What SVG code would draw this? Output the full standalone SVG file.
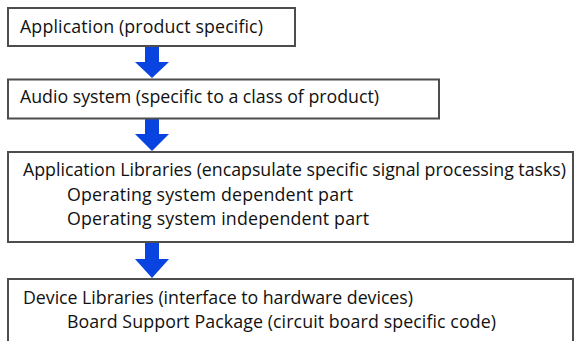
<svg xmlns="http://www.w3.org/2000/svg" width="575" height="341" viewBox="0 0 575 341">
<style>
.box{fill:#fff;stroke:#4d4d4d;stroke-width:2}
.t{font-family:"Open Sans","Noto Sans","Liberation Sans",sans-serif;font-size:17.8px;fill:#111}
.arr{fill:#0a44e0}
</style>
<rect x="0" y="0" width="575" height="341" fill="#fff"/>
<g id="connectors">
<polygon class="arr" points="145,47 159,47 159,62 169,62 152,78 135,62 145,62"/>
<polygon class="arr" points="145,119 159,119 159,134 169,134 152,151 135,134 145,134"/>
<polygon class="arr" points="145,242 159,242 159,259 169,259 152,278 135,259 145,259"/>
</g>
<g id="application">
<rect class="box" x="8" y="8" width="287" height="38"/>
<text class="t" x="20" y="33" textLength="243">Application (product specific)</text>
</g>
<g id="audio-system">
<rect class="box" x="8" y="79.5" width="431" height="39"/>
<text class="t" x="20" y="103" textLength="359">Audio system (specific to a class of product)</text>
</g>
<g id="application-libraries">
<rect class="box" x="8" y="152" width="565" height="90"/>
<text class="t" x="23" y="176" textLength="543">Application Libraries (encapsulate specific signal processing tasks)</text>
<text class="t" x="67" y="201" textLength="286">Operating system dependent part</text>
<text class="t" x="67" y="225" textLength="302">Operating system independent part</text>
</g>
<g id="device-libraries">
<rect class="box" x="8" y="279" width="565" height="80"/>
<text class="t" x="23" y="304" textLength="390">Device Libraries (interface to hardware devices)</text>
<text class="t" x="67" y="328" textLength="429">Board Support Package (circuit board specific code)</text>
</g>
</svg>
